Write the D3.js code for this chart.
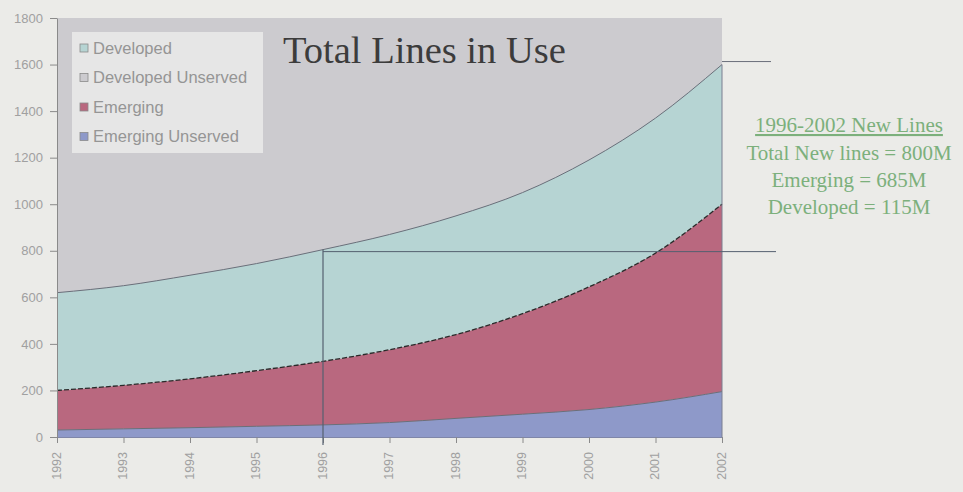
<!DOCTYPE html>
<html>
<head>
<meta charset="utf-8">
<script src="https://cdn.jsdelivr.net/npm/d3@7"></script>
<style>
  html, body { margin: 0; padding: 0; background: #ebebe8; }
  svg { display: block; }
</style>
</head>
<body>
<svg id="chart" width="963" height="492"></svg>
<script>
// Lines in use (millions), 1992-2002
const years = [1992, 1993, 1994, 1995, 1996, 1997, 1998, 1999, 2000, 2001, 2002];
const emergingUnserved = [30, 35, 40, 46, 52, 62, 80, 98, 118, 150, 195];
const emerging = [170, 187, 210, 239, 273, 313, 360, 432, 527, 640, 805];
const developed = [420, 428, 445, 460, 480, 495, 510, 520, 545, 580, 600];
const yTicks = [0, 200, 400, 600, 800, 1000, 1200, 1400, 1600, 1800];
const legendItems = ["Developed", "Developed Unserved", "Emerging", "Emerging Unserved"];
const noteLines = ["Total New lines = 800M", "Emerging = 685M", "Developed = 115M"];

const colors = {
  "Emerging Unserved": "#8e99c9",
  "Emerging": "#b9687f",
  "Developed": "#b6d4d3",
  "Developed Unserved": "#cccbcf"
};

const svg = d3.select("#chart");
const margin = { left: 57, right: 241, top: 18, bottom: 55 };
const W = 963, H = 492;

const x = d3.scaleLinear().domain([1992, 2002]).range([margin.left, W - margin.right]);
const y = d3.scaleLinear().domain([0, 1800]).range([H - margin.bottom, margin.top]);

// Plot area background
svg.append("rect")
  .attr("x", x(1992)).attr("y", y(1800))
  .attr("width", x(2002) - x(1992)).attr("height", y(0) - y(1800))
  .attr("fill", colors["Developed Unserved"]);

const table = years.map((yr, i) => ({
  year: yr,
  "Emerging Unserved": emergingUnserved[i],
  "Emerging": emerging[i],
  "Developed": developed[i]
}));
const keys = ["Emerging Unserved", "Emerging", "Developed"];
const stacked = d3.stack().keys(keys)(table);

const area = d3.area()
  .x(d => x(d.data.year))
  .y0(d => y(d[0]))
  .y1(d => y(d[1]))
  .curve(d3.curveMonotoneX);
const topLine = d3.line()
  .x(d => x(d.data.year))
  .y(d => y(d[1]))
  .curve(d3.curveMonotoneX);

svg.append("g").selectAll("path.layer")
  .data(stacked).join("path")
  .attr("class", "layer")
  .attr("d", area)
  .attr("fill", d => colors[d.key]);

// Layer boundary lines
svg.append("g").selectAll("path.edge")
  .data(stacked).join("path")
  .attr("class", "edge")
  .attr("d", topLine)
  .attr("fill", "none")
  .attr("stroke", d => d.key === "Emerging" ? "#2a2a2a" : "#6a6f7a")
  .attr("stroke-width", d => d.key === "Emerging" ? 1.3 : 1)
  .attr("stroke-dasharray", d => d.key === "Emerging" ? "5,2" : null);

// Axes
const yAxis = d3.axisLeft(y).tickValues(yTicks).tickFormat(d3.format("d")).tickSize(7).tickSizeOuter(0);
const gy = svg.append("g").attr("transform", `translate(${x(1992)},0)`).call(yAxis);
gy.select(".domain").attr("stroke", "#8a8a8a");
gy.selectAll(".tick line").attr("stroke", "#8a8a8a");
gy.selectAll(".tick text")
  .attr("fill", "#a0a0a0")
  .attr("font-family", "Liberation Sans, Arial, sans-serif")
  .attr("font-size", 13)
  .attr("x", -14);

const xAxis = d3.axisBottom(x).tickValues(years).tickFormat(d3.format("d")).tickSize(6).tickSizeOuter(0);
const gx = svg.append("g").attr("transform", `translate(0,${y(0)})`).call(xAxis);
gx.select(".domain").attr("stroke", "#7f86a8");
gx.selectAll(".tick line").attr("stroke", "#8a8a8a");
gx.selectAll(".tick text")
  .attr("fill", "#a0a0a0")
  .attr("font-family", "Liberation Sans, Arial, sans-serif")
  .attr("font-size", 12.5)
  .attr("transform", "rotate(-90)")
  .attr("text-anchor", "end")
  .attr("x", -15)
  .attr("y", -1)
  .attr("dy", "0.35em");

// Plot frame on the right edge
svg.append("line")
  .attr("x1", x(2002)).attr("x2", x(2002))
  .attr("y1", y(1600)).attr("y2", y(0))
  .attr("stroke", "#7a7f90").attr("stroke-width", 1);

// Reference lines: 1996 total and 2002 total
const total1996 = emergingUnserved[4] + emerging[4] + developed[4];
const total2002 = emergingUnserved[10] + emerging[10] + developed[10];
svg.append("line")
  .attr("x1", x(1996)).attr("x2", x(1996))
  .attr("y1", y(total1996)).attr("y2", y(0) + 8)
  .attr("stroke", "#556070").attr("stroke-width", 1.2);
svg.append("line")
  .attr("x1", x(1996)).attr("x2", 776)
  .attr("y1", y(total1996) + 2).attr("y2", y(total1996) + 2)
  .attr("stroke", "#556070").attr("stroke-width", 1);
svg.append("line")
  .attr("x1", x(2002)).attr("x2", 771)
  .attr("y1", y(total2002) - 3).attr("y2", y(total2002) - 3)
  .attr("stroke", "#6a6f7a").attr("stroke-width", 1);

// Legend
const lg = svg.append("g").attr("transform", "translate(72,32)");
lg.append("rect").attr("x", 0).attr("y", 0).attr("width", 191).attr("height", 121).attr("fill", "#e6e6e6");
legendItems.forEach((name, i) => {
  const row = lg.append("g").attr("transform", `translate(8,${16 + i * 29.5})`);
  row.append("rect").attr("x", 0).attr("y", -4).attr("width", 8).attr("height", 8)
    .attr("fill", colors[name]).attr("stroke", "#8a8a8a").attr("stroke-width", 0.8);
  row.append("text").attr("x", 13).attr("y", 0).attr("dy", "0.35em")
    .attr("font-family", "Liberation Sans, Arial, sans-serif")
    .attr("font-size", 16.5).attr("fill", "#959595").text(name);
});

// Title
svg.append("text")
  .attr("x", 283).attr("y", 63)
  .attr("font-family", "Liberation Serif, Times New Roman, serif")
  .attr("font-size", 38.5).attr("fill", "#3c3c3c")
  .text("Total Lines in Use");

// Annotation
const note = svg.append("g").attr("fill", "#7cb07c")
  .attr("font-family", "Liberation Serif, Times New Roman, serif")
  .attr("font-size", 21).attr("text-anchor", "middle");
note.append("text").attr("x", 849).attr("y", 132)
  .attr("text-decoration", "underline").text("1996-2002 New Lines");
noteLines.forEach((t, i) => {
  note.append("text").attr("x", 849).attr("y", 160 + i * 27).text(t);
});
</script>
</body>
</html>
